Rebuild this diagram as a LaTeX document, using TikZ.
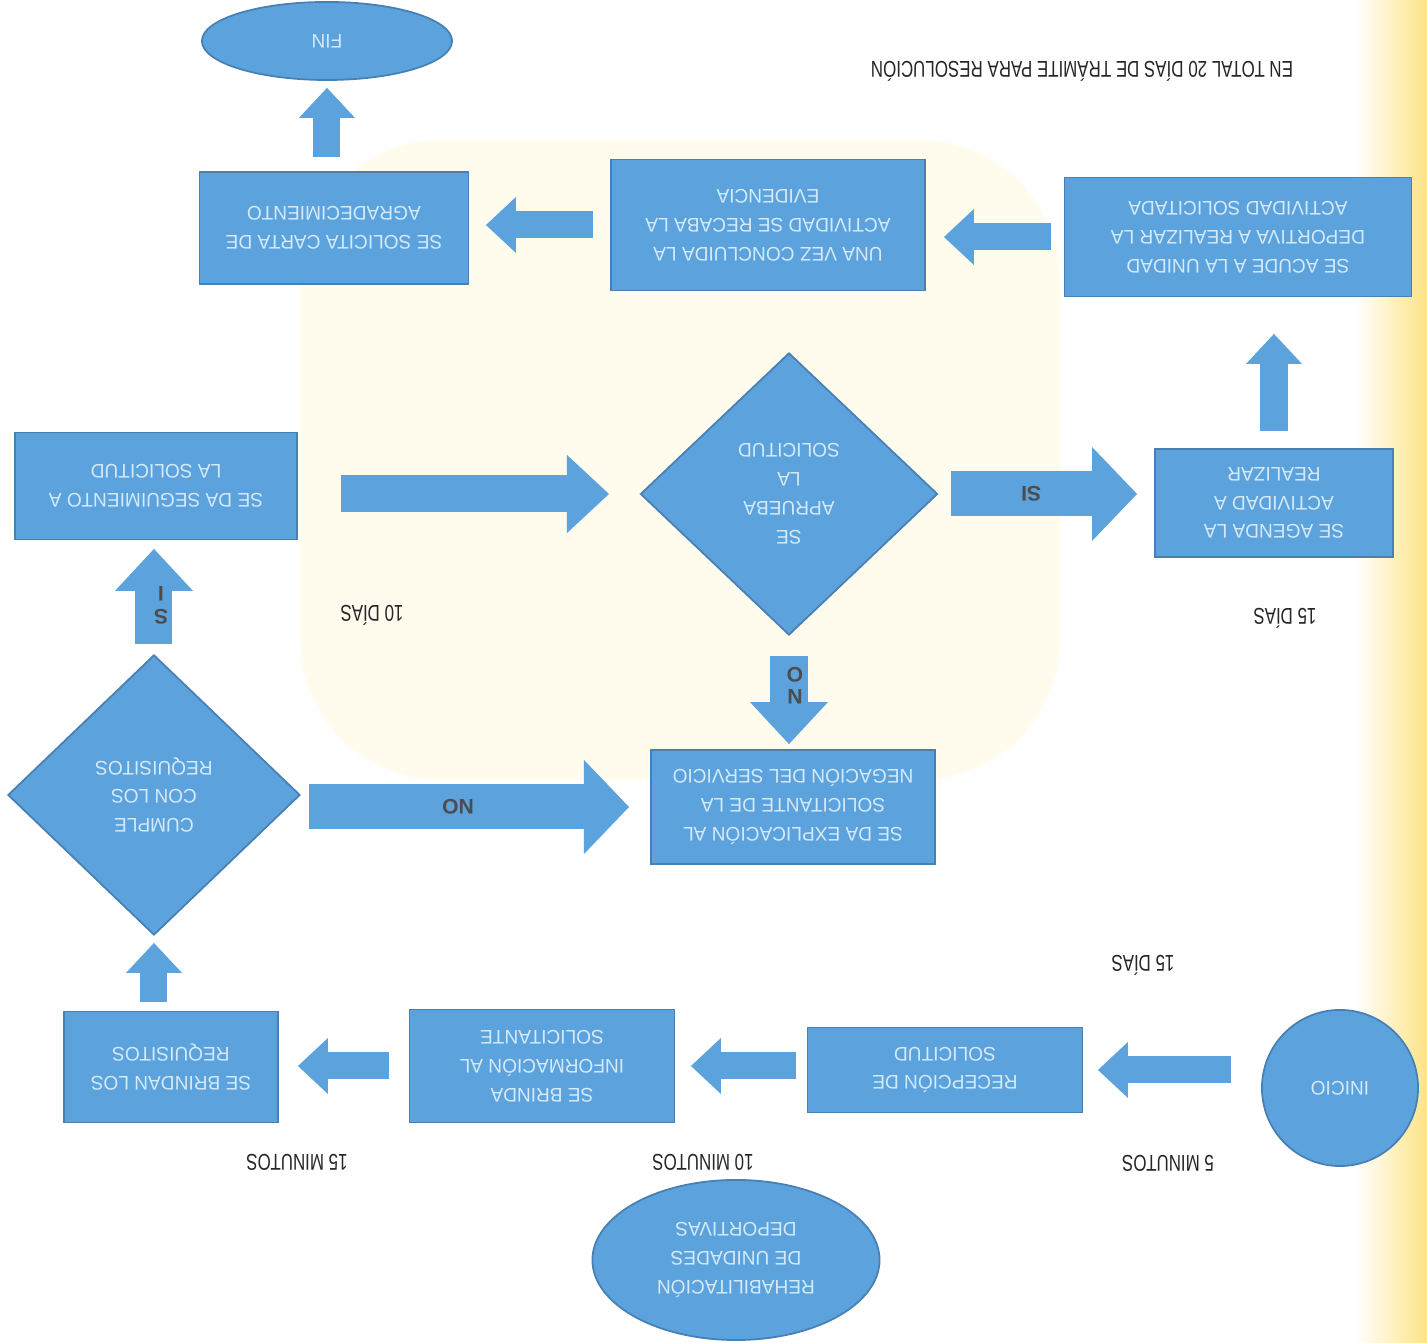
\documentclass[tikz,border=0pt]{standalone}
\usepackage{fontspec}
\setmainfont{Liberation Sans}
\newfontfamily\boxfont[FakeStretch=0.97]{Liberation Sans}
\newfontfamily\labfont[FakeStretch=0.74]{Liberation Sans}
\usetikzlibrary{arrows.meta,shapes.geometric}
\definecolor{flowblue}{RGB}{92,163,221}
\definecolor{flowedge}{RGB}{70,128,180}
\definecolor{flowtext}{RGB}{212,233,249}
\definecolor{stripyel}{RGB}{253,228,135}
\definecolor{markyel}{RGB}{255,251,237}

\begin{document}
\begin{tikzpicture}[x=0.01cm, y=-0.01cm, rotate=180, transform shape,
    blk/.style={draw=flowedge, line width=0.5pt, fill=flowblue, text=flowtext,
                inner sep=0pt, align=center,
                font=\boxfont\fontsize{5.6}{8.2}\selectfont},
    box/.style 2 args={blk, rectangle, minimum width=#1, minimum height=#2},
    dec/.style 2 args={blk, diamond, aspect=1, minimum width=#1, minimum height=#2},
    oval/.style 2 args={blk, ellipse, minimum width=#1, minimum height=#2},
    lab/.style={inner sep=0pt, text=black!85,
                font=\labfont\fontsize{6.5}{7.5}\selectfont},
    yn/.style={inner sep=0pt, text=black!70, align=center,
               font=\bfseries\fontsize{6}{6.4}\selectfont},
    arrS/.style={draw=flowblue, line width=0.27cm,
                 -{Triangle[width=0.56cm, length=0.30cm, line width=0pt]}},
    arrM/.style={draw=flowblue, line width=0.37cm,
                 -{Triangle[width=0.78cm, length=0.42cm, line width=0pt]}},
    arrL/.style={draw=flowblue, line width=0.45cm,
                 -{Triangle[width=0.94cm, length=0.45cm, line width=0pt]}}]

  \useasboundingbox (0,0) rectangle (1427,1343);
  %% background: page, yellow side strip, faint watermark
  \fill[white] (0,0) rectangle (1427,1343);
  \shade[left color=white, right color=stripyel] (0,0) rectangle (72,1343);
  \fill[markyel, rounded corners=40pt] (367,563) rectangle (1127,1203);

  %% first row
  \node[blk, circle, minimum size=1.56cm] (inicio) at (87,255) {INICIO};
  \node[box={2.75cm}{0.85cm}] (recep) at (482,273)
    {RECEPCIÓN DE\\SOLICITUD};
  \node[box={2.65cm}{1.13cm}] (info) at (885,277)
    {SE BRINDA\\INFORMACIÓN AL\\SOLICITANTE};
  \node[box={2.14cm}{1.11cm}] (req) at (1256,276)
    {SE BRINDAN LOS\\REQUISITOS};
  \node[oval={2.87cm}{1.60cm}] (rehab) at (691,83)
    {REHABILITACIÓN\\DE UNIDADES\\DEPORTIVAS};

  %% decisions
  \node[dec={2.92cm}{2.80cm}] (cumple) at (1273,548)
    {CUMPLE\\CON LOS\\REQUISITOS};
  \node[box={2.84cm}{1.14cm}] (negacion) at (634,536)
    {SE DA EXPLICACIÓN AL\\SOLICITANTE DE LA\\NEGACIÓN DEL SERVICIO};
  \node[box={2.82cm}{1.07cm}] (seguim) at (1271,857)
    {SE DA SEGUIMIENTO A\\LA SOLICITUD};
  \node[dec={2.97cm}{2.82cm}] (aprueba) at (638,849)
    {SE\\APRUEBA\\LA\\SOLICITUD};
  \node[box={2.38cm}{1.08cm}] (agenda) at (153,840)
    {SE AGENDA LA\\ACTIVIDAD A\\REALIZAR};

  %% last row
  \node[box={3.47cm}{1.19cm}] (acude) at (189,1106)
    {SE ACUDE A LA UNIDAD\\DEPORTIVA A REALIZAR LA\\ACTIVIDAD SOLICITADA};
  \node[box={3.14cm}{1.31cm}] (unavez) at (659,1118)
    {UNA VEZ CONCLUIDA LA\\ACTIVIDAD SE RECABA LA\\EVIDENCIA};
  \node[box={2.69cm}{1.12cm}] (carta) at (1093,1115)
    {SE SOLICITA CARTA DE\\AGRADECIMIENTO};
  \node[oval={2.50cm}{0.78cm}] (fin) at (1100,1302) {FIN};

  %% times
  \node[lab] (t5m)  at (259,180)  {5 MINUTOS};
  \node[lab] (t10m) at (724,181)  {10 MINUTOS};
  \node[lab] (t15m) at (1130,181) {15 MINUTOS};
  \node[lab] (t15a) at (284,378)  {15 DÍAS};
  \node[lab] (t10d) at (1055,728) {10 DÍAS};
  \node[lab] (t15b) at (142,725)  {15 DÍAS};
  \node[lab] (total) at (345,1272)
    {EN TOTAL 20 DÍAS DE TRÁMITE PARA RESOLUCIÓN};

  %% block arrows
  \draw[arrS, shorten <=0.30cm, shorten >=0.145cm]
    (inicio.east |- recep.west) -- (recep.west);
  \draw[arrS, shorten <=0.105cm, shorten >=0.155cm]
    (recep.east |- info.west) -- (info.west);
  \draw[arrS, shorten <=0.195cm, shorten >=0.19cm]
    (info.east) -- (info.east -| req.west);
  \draw[arrS, shorten <=0.085cm, shorten >=0.07cm]
    (req.south -| cumple.north) -- (cumple.north);
  \draw[arrM, shorten <=0.10cm, shorten >=0.085cm]
    (cumple.south) -- (cumple.south |- seguim.north)
    node[yn, pos=0.43, xshift=-0.07cm] {S\\I};
  \draw[arrL, shorten <=0.08cm, shorten >=0.21cm]
    (cumple.west |- negacion.east) -- (negacion.east)
    node[yn, pos=0.45] {NO};
  \draw[arrM, shorten <=0.43cm, shorten >=0.305cm]
    (seguim.west |- aprueba.east) -- (aprueba.east);
  \draw[arrL, shorten <=0.125cm, shorten >=0.17cm]
    (aprueba.west) -- (aprueba.west -| agenda.east)
    node[yn, pos=0.43] {SI};
  \draw[arrM, shorten <=0.20cm, shorten >=0.05cm]
    (aprueba.north) -- (aprueba.north |- negacion.south)
    node[yn, pos=0.44, xshift=-0.06cm] {N\\O};
  \draw[arrS, shorten <=0.17cm, shorten >=0.365cm]
    (agenda.south) -- (agenda.south |- acude.north);
  \draw[arrS, shorten <=0.125cm, shorten >=0.18cm]
    (acude.east) -- (acude.east -| unavez.west);
  \draw[arrS, shorten <=0.17cm, shorten >=0.165cm]
    (unavez.east) -- (unavez.east -| carta.west);
  \draw[arrS, shorten <=0.14cm, shorten >=0.07cm]
    (fin.north |- carta.south) -- (fin.north);
\end{tikzpicture}
\end{document}
